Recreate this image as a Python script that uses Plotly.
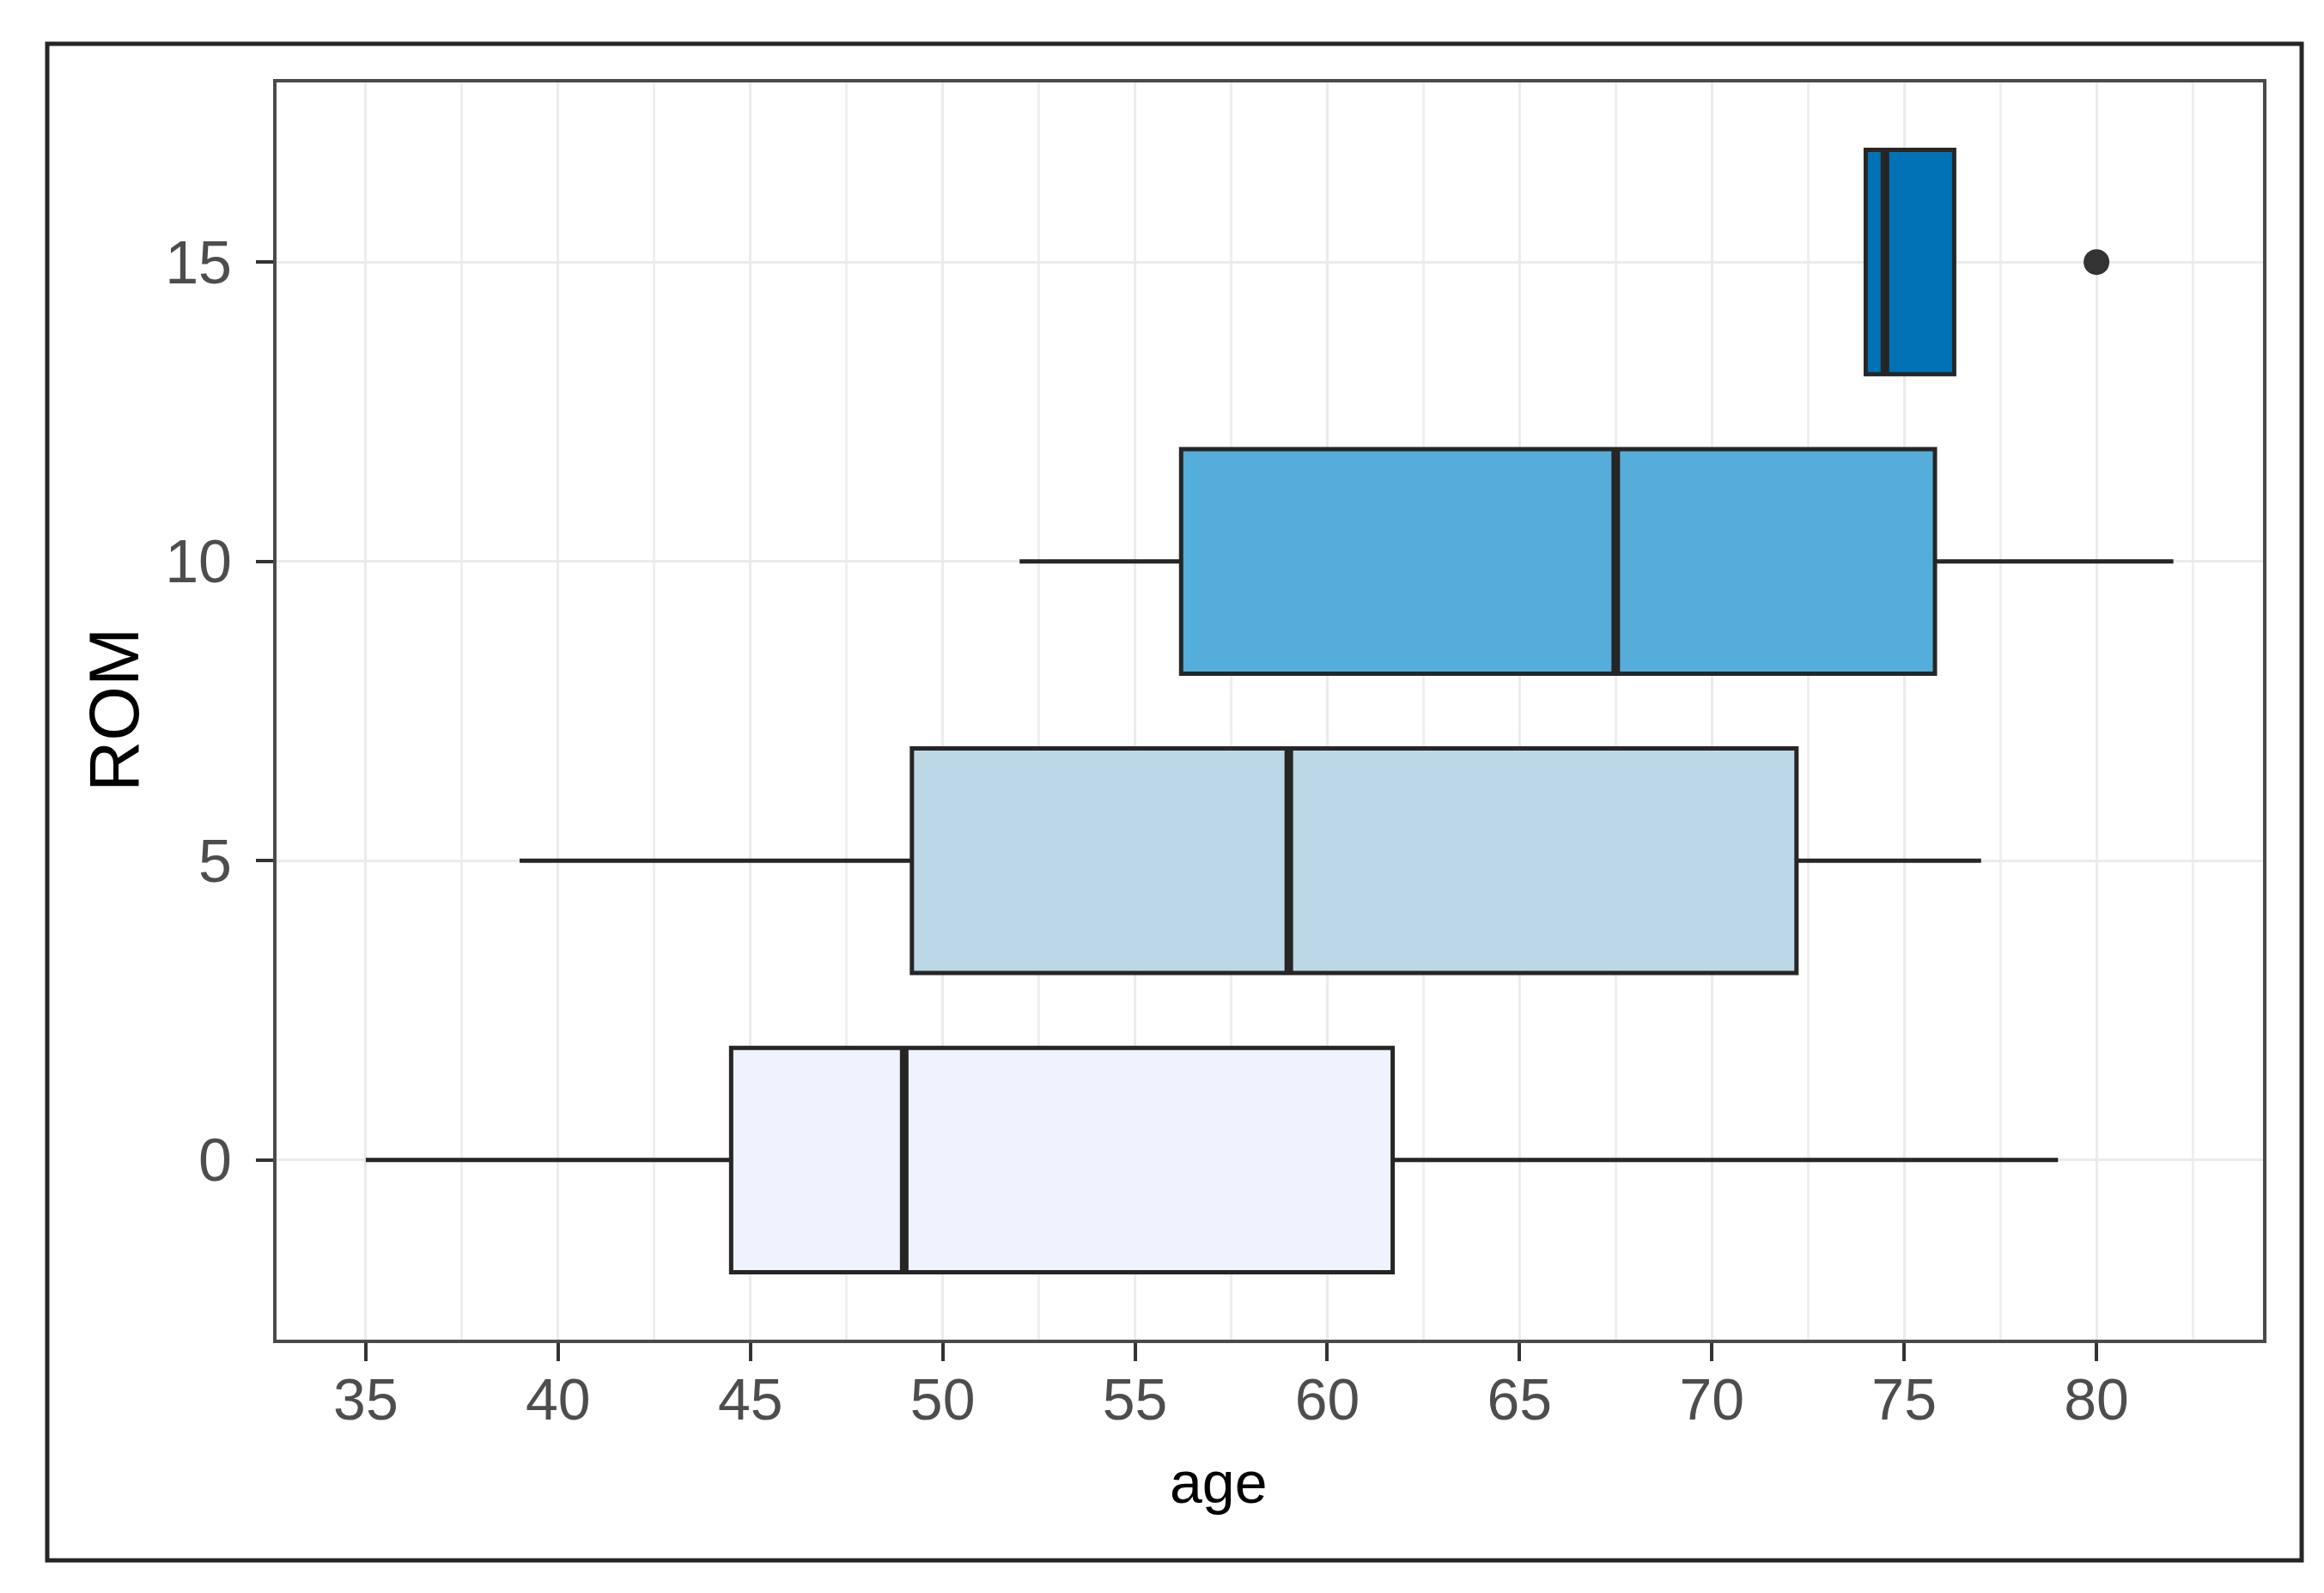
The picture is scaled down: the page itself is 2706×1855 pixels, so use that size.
import plotly.graph_objects as go

# ---- data ----
rom_levels = [0, 5, 10, 15]
lower_whisker = [35.0, 39.0, 52.0, 74.0]
q1_vals = [44.5, 49.2, 56.2, 74.0]
median_vals = [49.0, 59.0, 67.5, 74.5]
q3_vals = [61.7, 72.2, 75.8, 76.3]
upper_whisker = [79.0, 77.0, 82.0, 76.3]
outlier_rom = [15]
outlier_age = [80.0]
fill_colors = ["#EEF3FD", "#BCD8E6", "#55AEDA", "#0072B5"]
x_ticks = [35, 40, 45, 50, 55, 60, 65, 70, 75, 80]
y_ticks = [0, 5, 10, 15]

# ---- geometry / styling ----
W, H = 2706, 1855
pl, pt, pr, pb = 314, 88, 2627, 1552   # panel pixel box
box_w = 3.75
edge = "#262626"
font = "Liberation Sans"

fig = go.Figure()
for i, r in enumerate(rom_levels):
    fig.add_trace(go.Box(
        y=[r], q1=[q1_vals[i]], median=[median_vals[i]], q3=[q3_vals[i]],
        lowerfence=[lower_whisker[i]], upperfence=[upper_whisker[i]],
        orientation="h", width=box_w, whiskerwidth=0,
        fillcolor=fill_colors[i], line=dict(color=edge, width=5),
        boxpoints=False, showlegend=False, hoverinfo="skip",
    ))
    # thicker median line (ggplot style)
    fig.add_trace(go.Scatter(
        x=[median_vals[i], median_vals[i]], y=[r - box_w / 2, r + box_w / 2],
        mode="lines", line=dict(color=edge, width=10), showlegend=False,
        hoverinfo="skip",
    ))

fig.add_trace(go.Scatter(
    x=outlier_age, y=outlier_rom, mode="markers",
    marker=dict(color="#333333", size=30), showlegend=False, hoverinfo="skip",
))

pw, ph = pr - pl, pb - pt
def px(x): return (x - pl) / pw
def py(y): return (pb - y) / ph

fig.update_layout(
    width=W, height=H,
    margin=dict(l=pl, r=W - pr, t=pt, b=H - pb, pad=0),
    paper_bgcolor="white", plot_bgcolor="white",
    font=dict(family=font, color="#4D4D4D", size=68),
    shapes=[dict(type="rect", xref="paper", yref="paper",
                 x0=px(47), x1=px(2672), y0=py(1809), y1=py(43),
                 line=dict(color="#262626", width=5), layer="below")],
    annotations=[
        dict(text="age", xref="paper", yref="paper", x=px(1410), y=py(1718),
             showarrow=False, font=dict(size=68, color="black", family=font),
             xanchor="center", yanchor="middle"),
        dict(text="ROM", xref="paper", yref="paper", x=px(124), y=py(819),
             showarrow=False, textangle=-90,
             font=dict(size=82, color="black", family=font),
             xanchor="center", yanchor="middle"),
    ],
)

fig.update_xaxes(
    range=[32.68, 84.33], tickvals=x_ticks, ticks="outside", ticklen=21,
    tickwidth=3.5, tickcolor="#333333", ticklabelstandoff=-14,
    showgrid=True, gridcolor="#EBEBEB", gridwidth=3,
    minor=dict(dtick=2.5, tick0=0, showgrid=True, gridcolor="#EFEFEF",
               gridwidth=2.5, ticks=""),
    showline=True, linecolor="#4a4a4a", linewidth=4, mirror=True,
    zeroline=False, tickfont=dict(size=68, color="#4D4D4D"),
)
fig.update_yaxes(
    range=[-3.0, 18.0], tickvals=y_ticks, ticks="outside", ticklen=20,
    tickwidth=3.5, tickcolor="#333333", ticklabelstandoff=14,
    showgrid=True, gridcolor="#EBEBEB", gridwidth=3,
    showline=True, linecolor="#4a4a4a", linewidth=4, mirror=True,
    zeroline=False, tickfont=dict(size=70, color="#4D4D4D"),
)

fig.write_html("out.html")
